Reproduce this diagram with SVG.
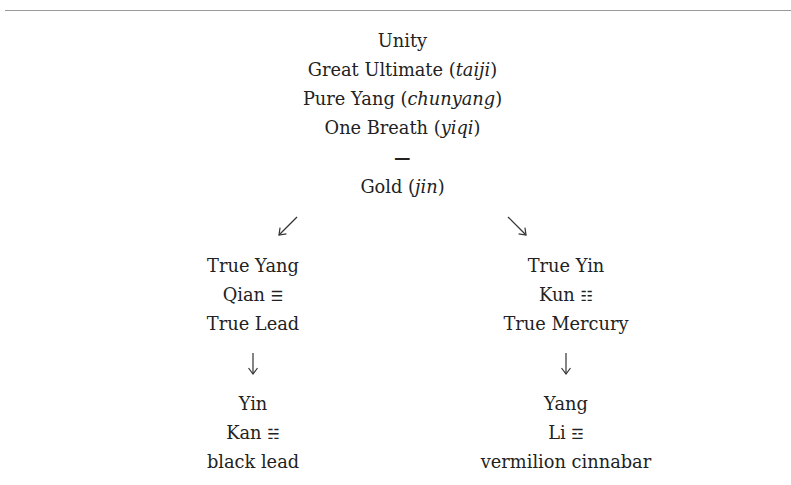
<svg xmlns="http://www.w3.org/2000/svg" width="791" height="485" viewBox="0 0 791 485">
<style>
text{font-family:"DejaVu Serif","Liberation Serif",serif;font-size:17.8px;fill:#222;text-anchor:middle}
.i{font-style:italic}
.sym{font-family:"DejaVu Sans","Noto Sans",sans-serif;font-size:14px}
.arr{fill:none;stroke:#333;stroke-width:1.2}
</style>
<defs>
<marker id="ah" markerUnits="userSpaceOnUse" markerWidth="12" markerHeight="12" viewBox="0 0 12 12" refX="10" refY="6" orient="auto">
<path d="M4,1.5 L10,6 L4,10.5" fill="none" stroke="#333" stroke-width="1.2"/>
</marker>
</defs>
<rect width="791" height="485" fill="#fff"/>
<line x1="5" y1="10.5" x2="791" y2="10.5" stroke="#9a9a9a" stroke-width="1"/>
<g id="unity">
<text x="402.5" y="47">Unity</text>
<text x="402.5" y="76">Great Ultimate (<tspan class="i">taiji</tspan>)</text>
<text x="402.5" y="105">Pure Yang (<tspan class="i">chunyang</tspan>)</text>
<text x="402.5" y="134">One Breath (<tspan class="i">yiqi</tspan>)</text>
<text x="402.5" y="160" class="sym" style="font-size:20px">⚊</text>
<text x="402.5" y="193">Gold (<tspan class="i">jin</tspan>)</text>
</g>
<g id="connectors">
<path class="arr" d="M297,217 L279,235" marker-end="url(#ah)"/>
<path class="arr" d="M508,217 L526,235" marker-end="url(#ah)"/>
<path class="arr" d="M253,353 L253,374" marker-end="url(#ah)"/>
<path class="arr" d="M566,353 L566,374" marker-end="url(#ah)"/>
</g>
<g id="true-yang">
<text x="253" y="272">True Yang</text>
<text x="253" y="301">Qian <tspan class="sym">☰</tspan></text>
<text x="253" y="330">True Lead</text>
</g>
<g id="true-yin">
<text x="566" y="272">True Yin</text>
<text x="566" y="301">Kun <tspan class="sym">☷</tspan></text>
<text x="566" y="330">True Mercury</text>
</g>
<g id="yin">
<text x="253" y="410">Yin</text>
<text x="253" y="439">Kan <tspan class="sym">☵</tspan></text>
<text x="253" y="468">black lead</text>
</g>
<g id="yang">
<text x="566" y="410">Yang</text>
<text x="566" y="439">Li <tspan class="sym">☲</tspan></text>
<text x="566" y="468">vermilion cinnabar</text>
</g>
</svg>
